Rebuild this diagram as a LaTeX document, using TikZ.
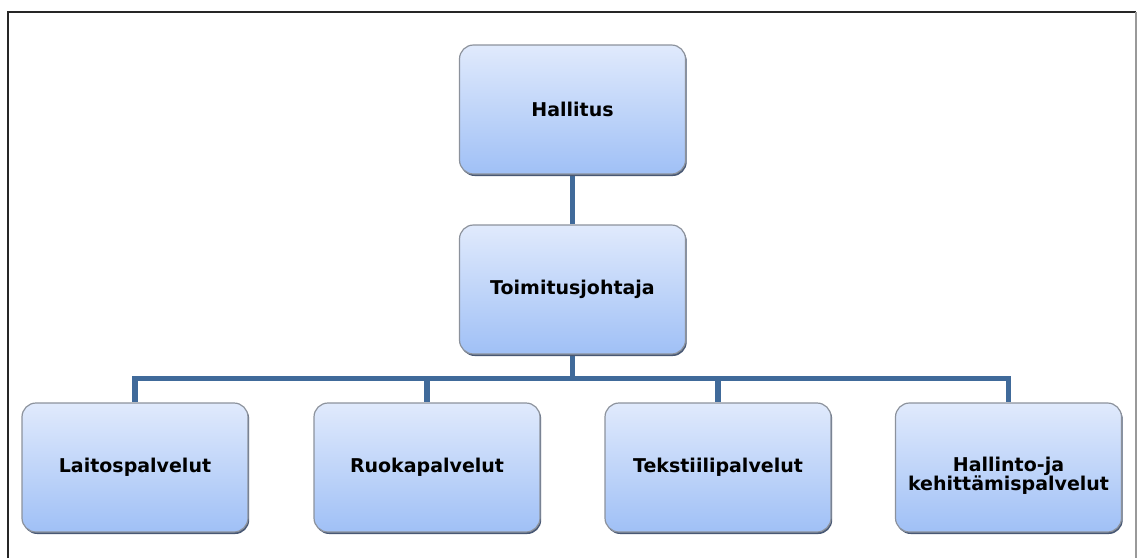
\documentclass[tikz,border=0pt]{standalone}
\usepackage{fontspec}
\setmainfont{DejaVu Sans}
\usetikzlibrary{backgrounds,calc}
\definecolor{boxtop}{RGB}{224,234,252}
\definecolor{boxbot}{RGB}{160,192,246}
\definecolor{boxedge}{RGB}{140,146,156}
\definecolor{boxshade}{RGB}{72,88,116}
\definecolor{linkblue}{RGB}{64,106,154}
\tikzset{
  orgbox/.style={rounded corners=14pt, top color=boxtop, bottom color=boxbot,
    draw=boxedge, line width=1.2pt, minimum width=226pt, minimum height=129pt,
    align=center, inner sep=0pt,
    font=\fontsize{19}{20}\selectfont\bfseries,
    preaction={fill=boxshade, transform canvas={shift={(1.2pt,-2pt)}}}},
  link/.style={draw=linkblue, line width=5.5pt, line join=miter}
}
\begin{document}
\begin{tikzpicture}[x=1pt,y=-1pt]
\useasboundingbox (0,0) rectangle (1137,558);
% page frame
\draw[line width=2pt, black!85] (8,558) -- (8,12) -- (1136,12);
\draw[line width=1.5pt, black!40] (1136,12) -- (1136,558);
% boxes
\node[orgbox] (hal) at (572.5,109.5) {Hallitus};
\node[orgbox] (toj) at (572.5,289.5) {Toimitusjohtaja};
\node[orgbox] (lai) at (135,467.5) {Laitospalvelut};
\node[orgbox] (ruo) at (427,467.5) {Ruokapalvelut};
\node[orgbox] (tek) at (718,467.5) {Tekstiilipalvelut};
\node[orgbox, text depth=0pt] (hke) at (1008.5,467.5) {\raisebox{-3pt}{\begin{tabular}{@{}c@{}}Hallinto-ja\\[-1pt]kehittämispalvelut\end{tabular}}};
% connectors
\begin{pgfonlayer}{background}
\draw[link] (hal.south) -- (toj.north);
\coordinate (bus) at ($(toj.south)+(0,24)$);
\foreach \c in {lai,ruo,tek,hke}{
  \draw[link] (toj.south) -- (bus) -| (\c.north);
}
\end{pgfonlayer}
\end{tikzpicture}
\end{document}
